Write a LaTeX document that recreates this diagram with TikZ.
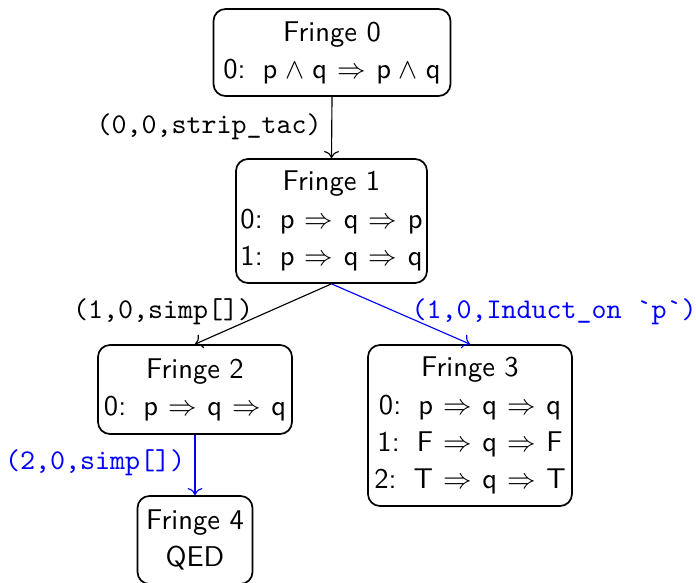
\documentclass[tikz,border=0pt]{standalone}
\usetikzlibrary{arrows.meta}
\newcommand{\fv}[1]{\mathsf{#1}}
% numbered goal line: index, gap, then the formula with roomier connectives
\newcommand{\goal}[2]{#1:\hspace{6pt}$\medmuskip=5mu\thickmuskip=6.5mu #2$}
\begin{document}
\begin{tikzpicture}[x=0.35pt,y=-0.35pt,
  fringe/.style={draw, rounded corners=4.2pt, line width=0.6pt, align=center,
    font=\sffamily, inner sep=0pt},
  link/.style={->, line width=0.4pt},
  tac/.style={font=\ttfamily, inner sep=0pt}]
\useasboundingbox (0,0) rectangle (696,582);

% goal fringes
\node[fringe, minimum width=82.95pt, minimum height=30.45pt] (f0) at (332,52.5)
  {Fringe 0\\[1pt] \goal{0}{\fv{p}\wedge\fv{q}\Rightarrow\fv{p}\wedge\fv{q}}};
\node[fringe, minimum width=66.85pt, minimum height=43.4pt] (f1) at (331.5,221)
  {Fringe 1\\[1pt] \goal{0}{\fv{p}\Rightarrow\fv{q}\Rightarrow\fv{p}}\\[1pt]
   \goal{1}{\fv{p}\Rightarrow\fv{q}\Rightarrow\fv{q}}};
\node[fringe, minimum width=67.9pt, minimum height=31.15pt] (f2) at (195,389.5)
  {Fringe 2\\[1pt] \goal{0}{\fv{p}\Rightarrow\fv{q}\Rightarrow\fv{q}}};
\node[fringe, minimum width=71.4pt, minimum height=56.35pt] (f3) at (470,425.5)
  {Fringe 3\\[1pt] \goal{0}{\fv{p}\Rightarrow\fv{q}\Rightarrow\fv{q}}\\[1pt]
   \goal{1}{\fv{F}\Rightarrow\fv{q}\Rightarrow\fv{F}}\\[1pt]
   \goal{2}{\fv{T}\Rightarrow\fv{q}\Rightarrow\fv{T}}};
\node[fringe, minimum width=40.25pt, minimum height=30.8pt] (f4) at (195,540)
  {Fringe 4\\[1pt] QED};

% tactic applications
\draw[link] (f0.south) -- (f1.north);
\draw[link] (f1.south) -- (f2.north);
\draw[link, blue] (f1.south) -- (f3.north);
\draw[link, blue] (f2.south) -- (f4.north);

\node[tac] (t0) at (209,127) {(0,0,strip\_tac)};
\node[tac] (t1) at (163,312) {(1,0,simp[])};
\node[tac, text=blue] (t2) at (554,312) {(1,0,Induct\_on \textasciigrave p\textasciigrave)};
\node[tac, text=blue] (t3) at (95,463) {(2,0,simp[])};
\end{tikzpicture}
\end{document}
